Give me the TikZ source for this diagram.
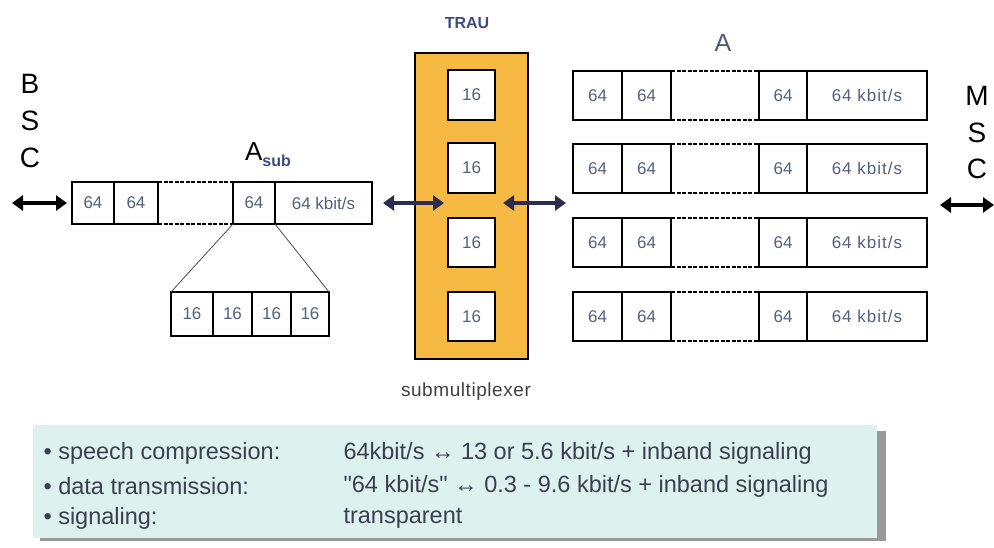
\documentclass[tikz,border=0pt]{standalone}
\usepackage{fontspec}
\setmainfont{Liberation Sans}
\newfontfamily\plainfont{Liberation Sans}
\usetikzlibrary{arrows.meta}
\definecolor{celltxt}{HTML}{55607E}
\definecolor{trau}{HTML}{F6B944}
\definecolor{panel}{HTML}{DDF2EE}
\definecolor{lbl}{HTML}{3E4A86}
\definecolor{albl}{HTML}{4E5878}
\definecolor{navy}{HTML}{2E2C4E}
\definecolor{btxt}{HTML}{3A4050}
\begin{document}
\begin{tikzpicture}[x=1pt,y=-1pt,
  cell/.style={draw, line width=1.3pt, inner sep=0pt, outer sep=0pt, anchor=north west,
    fill=white, text=celltxt, font=\fontsize{17}{17}\selectfont},
  gap/.style={line width=1.3pt, dash pattern=on 4pt off 1.5pt},
  arr/.style={line width=4pt, {Triangle[length=11pt,width=15pt]}-{Triangle[length=11pt,width=15pt]}},
  big/.style={font=\fontsize{28}{28}\selectfont, text=black},
  fan/.style={line width=0.8pt, draw=black!70},
  ptxt/.style={anchor=west, text=btxt, font=\fontsize{23.5}{23.5}\selectfont}]
\useasboundingbox (0,0) rectangle (994,548);
% BSC
\node[big] (B) at (30,84) {B};
\node[big] (S1) at (30,121) {S};
\node[big] (C1) at (30,158) {C};
% A_sub row
\node[cell, minimum width=42, minimum height=42] (a1) at (72,182) {64};
\node[cell, minimum width=44, minimum height=42] (a2) at (114,182) {64};
\node[cell, minimum width=42, minimum height=42] (a3) at (233,182) {64};
\node[cell, minimum width=97, minimum height=42] (a4) at (275,182) {64 kbit/s};
\draw[gap] (a2.north east) -- (a3.north west);
\draw[gap] (a2.south east) -- (a3.south west);
\node (asub) at (268,155) {\fontsize{26}{26}\selectfont A\raisebox{-6pt}{\fontsize{16}{16}\selectfont\bfseries\color{lbl}sub}};
% sub boxes
\node[cell, minimum width=42, minimum height=44] (s1) at (171,292) {16};
\node[cell, minimum width=39, minimum height=44] (s2) at (213,292) {16};
\node[cell, minimum width=39, minimum height=44] (s3) at (252,292) {16};
\node[cell, minimum width=38, minimum height=44] (s4) at (291,292) {16};
\draw[fan] (a3.south west) -- (s1.north west);
\draw[fan] (a3.south east) -- (s4.north east);
% TRAU
\node[font=\fontsize{16}{16}\selectfont\bfseries, text=lbl] (trauL) at (467,23) {TRAU};
\node[draw, line width=1.3pt, fill=trau, anchor=north west, minimum width=113, minimum height=306, inner sep=0pt, outer sep=0pt] (trau) at (415,53) {};
\node[cell, minimum width=47, minimum height=50] (t1) at (448,70) {16};
\node[cell, minimum width=47, minimum height=50] (t2) at (448,143) {16};
\node[cell, minimum width=47, minimum height=49] (t3) at (448,218) {16};
\node[cell, minimum width=47, minimum height=49] (t4) at (448,292) {16};
\node[font=\fontsize{19}{19}\selectfont\addfontfeature{LetterSpace=3}, text=black!75] (subm) at (466,392) {submultiplexer};
% A rows
\node[big, font=\fontsize{25}{25}\selectfont, text=albl] (Alab) at (723,43) {A};
\foreach \i/\y in {1/71,2/144,3/218,4/292}{
  \node[cell, minimum width=49, minimum height=49] (r\i c1) at (573,\y) {64};
  \node[cell, minimum width=49, minimum height=49] (r\i c2) at (622,\y) {64};
  \node[cell, minimum width=48, minimum height=49] (r\i c3) at (759,\y) {64};
  \node[cell, minimum width=120, minimum height=49] (r\i c4) at (807,\y) {\addfontfeature{LetterSpace=6}64 kbit/s};
  \draw[gap] (r\i c2.north east) -- (r\i c3.north west);
  \draw[gap] (r\i c2.south east) -- (r\i c3.south west);
}
% MSC
\node[big] (M) at (977,96) {M};
\node[big] (S2) at (977,133) {S};
\node[big] (C2) at (977,169) {C};
% arrows
\coordinate (bscEnd) at (12,203);
\coordinate (trauInL) at (444,203);
\coordinate (trauInR) at (503,203);
\coordinate (aIn) at (566,203);
\coordinate (mscA) at (940,205);
\coordinate (mscB) at (994,205);
\draw[arr] (bscEnd) -- ([xshift=-5pt]a1.west);
\draw[arr, navy] ([xshift=11pt]a4.east) -- (trauInL);
\draw[arr, navy] (trauInR) -- (aIn);
\draw[arr] (mscA) -- (mscB);
% bottom panel
\fill[black!40] (40,431) rectangle (886,541);
\fill[panel] (33,425) rectangle (877,538);
\node[ptxt] (l1) at (40,453) {• speech compression:};
\node[ptxt] (l2) at (40,486) {• data transmission:};
\node[ptxt] (l3) at (40,518) {• signaling:};
\node[ptxt] (m1) at (340,453) {64kbit/s ↔ 13 or 5.6 kbit/s + inband signaling};
\node[ptxt] (m2) at (340,486) {{\plainfont"}64 kbit/s{\plainfont"} ↔ 0.3 - 9.6 kbit/s + inband signaling};
\node[ptxt] (m3) at (340,518) {transparent};
\end{tikzpicture}
\end{document}
